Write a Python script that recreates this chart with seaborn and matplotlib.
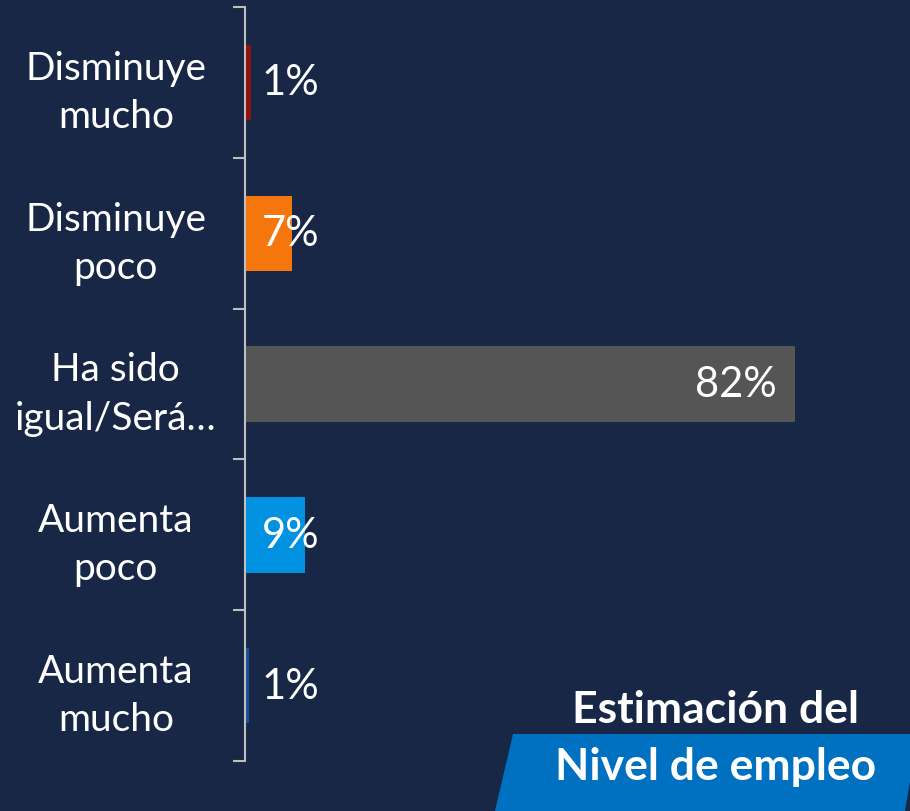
import matplotlib.pyplot as plt
import matplotlib.patches as mpatches
import seaborn as sns
import pandas as pd

categorias = ["Disminuye\nmucho", "Disminuye\npoco", "Ha sido\nigual/Será…", "Aumenta\npoco", "Aumenta\nmucho"]
valores = [0.9, 7.0, 82.0, 9.0, 0.6]
etiquetas = ["1%", "7%", "82%", "9%", "1%"]
colores = ["#8E1212", "#F5760C", "#555555", "#0091E0", "#1F4F99"]
titulo = ["Estimación del", "Nivel de empleo"]

fondo = "#172745"

sns.set_theme(style="white")
plt.rcParams["font.family"] = ["Lato", "DejaVu Sans"]

df = pd.DataFrame({"cat": categorias, "val": valores})

fig = plt.figure(figsize=(9.1, 8.12), dpi=100, facecolor=fondo)
ax = fig.add_axes([245 / 910, 1 - 762 / 812, 660 / 910, 754 / 812])
ax.set_facecolor(fondo)

sns.barplot(data=df, x="val", y="cat", hue="cat", palette=colores, orient="h",
            width=0.5, legend=False, ax=ax, saturation=1, linewidth=0,
            edgecolor="none")

ax.set_xlim(0, 98.4)
ax.set_ylim(4.5, -0.5)
ax.set_xlabel("")
ax.set_ylabel("")
ax.set_xticks([])

for s in ["top", "right", "bottom"]:
    ax.spines[s].set_visible(False)
ax.spines["left"].set_color("#BFBFBF")
ax.spines["left"].set_linewidth(1.5)

# ticks at category boundaries, labels at centers
ax.set_yticks([i - 0.5 for i in range(len(categorias) + 1)])
ax.set_yticklabels([])
ax.tick_params(axis="y", which="major", direction="out", length=9, width=1.5,
               color="#BFBFBF", left=True)
ax.set_yticks(range(len(categorias)), minor=True)
ax.set_yticklabels(categorias, minor=True, ha="center", color="white", fontsize=28,
                   linespacing=1.42)
ax.tick_params(axis="y", which="minor", length=0, pad=93)

for i, (v, t) in enumerate(zip(valores, etiquetas)):
    if v > 50:
        ax.annotate(t, (v, i), xytext=(-13, 0), textcoords="offset points",
                    ha="right", va="center", color="white", fontsize=30)
    else:
        ax.annotate(t, (0, i), xytext=(12, 0), textcoords="offset points",
                    ha="left", va="center", color="white", fontsize=30)

# title box
poly = [(513, 735), (918, 735), (905, 812), (495, 812)]
poly = [(x / 910, 1 - y / 812) for x, y in poly]
fig.patches.append(mpatches.Polygon(poly, closed=True, transform=fig.transFigure,
                                    facecolor="#0070C0", edgecolor="none"))
fig.text(716 / 910, 1 - 710 / 812, titulo[0], ha="center", va="center",
         color="white", fontsize=32, fontweight="bold")
fig.text(716 / 910, 1 - 767 / 812, titulo[1], ha="center", va="center",
         color="white", fontsize=32, fontweight="bold")

fig.savefig("out.png", dpi=100, facecolor=fondo)
